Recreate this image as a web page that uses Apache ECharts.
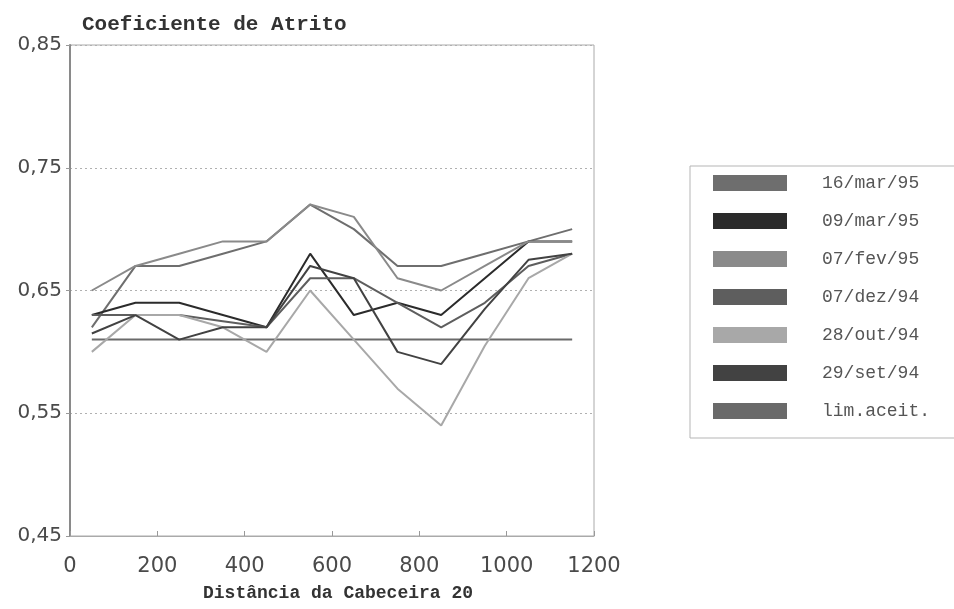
<!DOCTYPE html>
<html>
<head>
<meta charset="utf-8">
<script src="https://cdn.jsdelivr.net/npm/echarts@6/dist/echarts.min.js"></script>
<style>
html,body{margin:0;padding:0;background:#fff;}
#c{width:954px;height:609px;}
</style>
</head>
<body>
<div id="c"></div>
<script>
// Distance from threshold 20 (m)
var distances = [50, 150, 250, 350, 450, 550, 650, 750, 850, 950, 1050, 1150];

var mar16_95 = [0.62, 0.67, 0.67, 0.68, 0.69, 0.72, 0.70, 0.67, 0.67, 0.68, 0.69, 0.70];
var mar09_95 = [0.63, 0.64, 0.64, 0.63, 0.62, 0.68, 0.63, 0.64, 0.63, 0.66, 0.69, 0.69];
var fev07_95 = [0.65, 0.67, 0.68, 0.69, 0.69, 0.72, 0.71, 0.66, 0.65, 0.67, 0.69, 0.69];
var dez07_94 = [0.63, 0.63, 0.63, 0.625, 0.62, 0.66, 0.66, 0.64, 0.62, 0.64, 0.67, 0.68];
var out28_94 = [0.60, 0.63, 0.63, 0.62, 0.60, 0.65, 0.61, 0.57, 0.54, 0.605, 0.66, 0.68];
var set29_94 = [0.615, 0.63, 0.61, 0.62, 0.62, 0.67, 0.66, 0.60, 0.59, 0.635, 0.675, 0.68];
var limAceit = [0.61, 0.61, 0.61, 0.61, 0.61, 0.61, 0.61, 0.61, 0.61, 0.61, 0.61, 0.61];

var seriesNames = ['16/mar/95', '09/mar/95', '07/fev/95', '07/dez/94', '28/out/94', '29/set/94', 'lim.aceit.'];
var seriesValues = [mar16_95, mar09_95, fev07_95, dez07_94, out28_94, set29_94, limAceit];
var seriesColors = ['#6e6e6e', '#2b2b2b', '#8a8a8a', '#5e5e5e', '#a8a8a8', '#424242', '#6a6a6a'];

var yTicks = [0.45, 0.55, 0.65, 0.75, 0.85];
var xTicks = [0, 200, 400, 600, 800, 1000, 1200];

var chart = echarts.init(document.getElementById('c'), null, {renderer: 'canvas'});

var series = seriesNames.map(function (name, i) {
  return {
    name: name,
    type: 'line',
    data: distances.map(function (d, j) { return [d, seriesValues[i][j]]; }),
    symbol: 'none',
    lineStyle: {color: seriesColors[i], width: 2},
    itemStyle: {color: seriesColors[i]},
    z: i === 6 ? 1 : 2
  };
});

chart.setOption({
  animation: false,
  backgroundColor: '#ffffff',
  title: {
    text: 'Coeficiente de Atrito',
    left: 77,
    top: 9,
    textStyle: {fontFamily: 'Liberation Mono', fontWeight: 'bold', fontSize: 21, color: '#333333'}
  },
  legend: {
    orient: 'vertical',
    left: 690,
    top: 166,
    padding: [8, 40, 18, 23],
    borderColor: '#b5b5b5',
    borderWidth: 1,
    icon: 'rect',
    itemWidth: 74,
    itemHeight: 16,
    itemGap: 20,
    textStyle: {fontFamily: 'Liberation Mono', fontSize: 18, color: '#555', lineHeight: 16, padding: [0, 0, 0, 30]},
    data: seriesNames
  },
  grid: {
    left: 70, right: 360, top: 45, bottom: 73,
    show: true, borderColor: '#aaaaaa', borderWidth: 1
  },
  xAxis: {
    type: 'value',
    min: 0, max: 1200, interval: 200,
    name: 'Distância da Cabeceira 20',
    nameLocation: 'middle',
    nameGap: 48,
    nameTextStyle: {fontFamily: 'Liberation Mono', fontWeight: 'bold', fontSize: 18, color: '#333333', padding: [0, 0, 0, 12]},
    axisLine: {show: true, lineStyle: {color: '#aaaaaa', width: 1}},
    axisTick: {show: true, inside: true, length: 5, lineStyle: {color: '#999'}},
    axisLabel: {
      fontFamily: 'DejaVu Sans', fontSize: 21, color: '#4a4a4a', margin: 20,
      formatter: function (v) { return xTicks.indexOf(v) >= 0 ? String(v) : ''; }
    },
    splitLine: {show: false}
  },
  yAxis: {
    type: 'value',
    min: 0.45, max: 0.85,
    axisLine: {show: true, lineStyle: {color: '#8a8a8a', width: 2}},
    axisTick: {show: true, length: 4, customValues: yTicks, lineStyle: {color: '#999'}},
    axisLabel: {
      customValues: yTicks,
      fontFamily: 'DejaVu Sans', fontSize: 20, color: '#4a4a4a', margin: 8,
      formatter: function (v) { return v.toFixed(2).replace('.', ','); }
    },
    splitLine: {show: true, lineStyle: {color: '#b0b0b0', type: [2, 3], width: 1}}
  },
  series: series
});
</script>
</body>
</html>
